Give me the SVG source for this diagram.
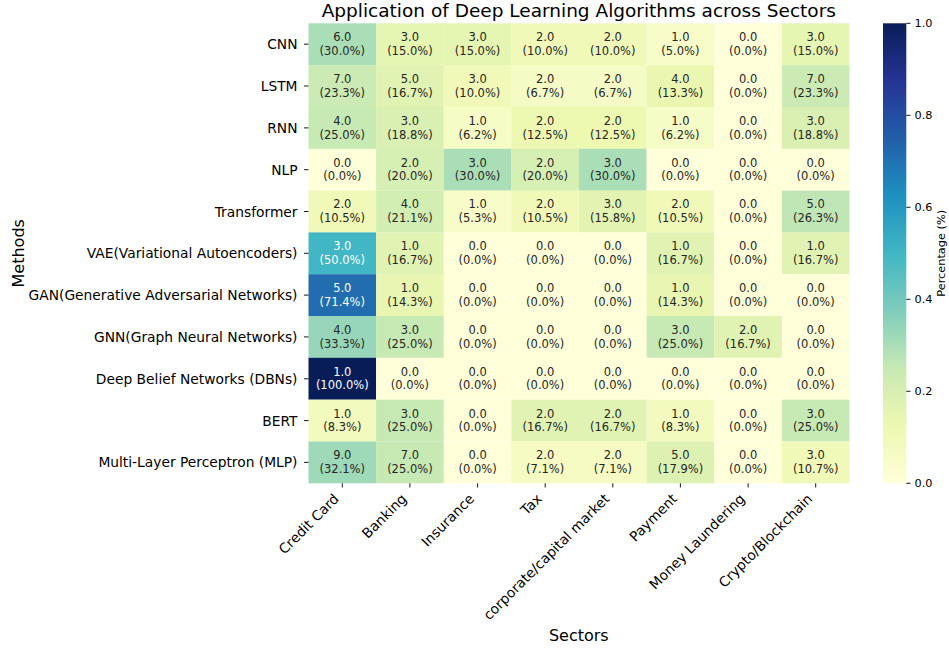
<svg xmlns="http://www.w3.org/2000/svg" width="949" height="651" viewBox="0 0 949 651">
<style>
text{font-family:"DejaVu Sans","Liberation Sans",sans-serif;fill:#262626}
.cell text{font-size:11.5px;text-anchor:middle}
.cell.w text{fill:#ffffff}
.yl{font-size:13.8px;text-anchor:end;fill:#000}
.xl{font-size:13.8px;text-anchor:end;fill:#000}
.cb{font-size:11.3px;fill:#000}
.tk{stroke:#000;stroke-width:0.9}
.ttl{font-size:18.5px;text-anchor:middle;fill:#000}
.al{font-size:16px;text-anchor:middle;fill:#000}
</style>
<defs>
<linearGradient id="ylgnbu" x1="0" y1="1" x2="0" y2="0">
<stop offset="0" stop-color="#ffffd9"/>
<stop offset="0.125" stop-color="#edf8b1"/>
<stop offset="0.25" stop-color="#c7e9b4"/>
<stop offset="0.375" stop-color="#7fcdbb"/>
<stop offset="0.5" stop-color="#41b6c4"/>
<stop offset="0.625" stop-color="#1d91c0"/>
<stop offset="0.75" stop-color="#225ea8"/>
<stop offset="0.875" stop-color="#253494"/>
<stop offset="1" stop-color="#081d58"/>
</linearGradient>
</defs>
<rect width="949" height="651" fill="#ffffff"/>
<text class="ttl" x="578.8" y="17">Application of Deep Learning Algorithms across Sectors</text>

<g id="heatmap">
<!-- CNN -->
<g id="cnn-creditcard" class="cell" transform="translate(308.5,23.3)"><rect width="67.7" height="41.9" fill="#aadeb7"/><text x="33.8" y="17.9">6.0</text><text x="33.8" y="31.5">(30.0%)</text></g>
<g id="cnn-banking" class="cell" transform="translate(376.1,23.3)"><rect width="67.7" height="41.9" fill="#e5f5b2"/><text x="33.8" y="17.9">3.0</text><text x="33.8" y="31.5">(15.0%)</text></g>
<g id="cnn-insurance" class="cell" transform="translate(443.8,23.3)"><rect width="67.7" height="41.9" fill="#e5f5b2"/><text x="33.8" y="17.9">3.0</text><text x="33.8" y="31.5">(15.0%)</text></g>
<g id="cnn-tax" class="cell" transform="translate(511.4,23.3)"><rect width="67.7" height="41.9" fill="#f1f9b9"/><text x="33.8" y="17.9">2.0</text><text x="33.8" y="31.5">(10.0%)</text></g>
<g id="cnn-corporate" class="cell" transform="translate(579,23.3)"><rect width="67.7" height="41.9" fill="#f1f9b9"/><text x="33.8" y="17.9">2.0</text><text x="33.8" y="31.5">(10.0%)</text></g>
<g id="cnn-payment" class="cell" transform="translate(646.6,23.3)"><rect width="67.7" height="41.9" fill="#f8fcc9"/><text x="33.8" y="17.9">1.0</text><text x="33.8" y="31.5">(5.0%)</text></g>
<g id="cnn-moneylaundering" class="cell" transform="translate(714.3,23.3)"><rect width="67.7" height="41.9" fill="#ffffd9"/><text x="33.8" y="17.9">0.0</text><text x="33.8" y="31.5">(0.0%)</text></g>
<g id="cnn-crypto" class="cell" transform="translate(781.9,23.3)"><rect width="67.6" height="41.9" fill="#e5f5b2"/><text x="33.8" y="17.9">3.0</text><text x="33.8" y="31.5">(15.0%)</text></g>
<!-- LSTM -->
<g id="lstm-creditcard" class="cell" transform="translate(308.5,65.1)"><rect width="67.7" height="41.9" fill="#ccebb4"/><text x="33.8" y="17.9">7.0</text><text x="33.8" y="31.5">(23.3%)</text></g>
<g id="lstm-banking" class="cell" transform="translate(376.1,65.1)"><rect width="67.7" height="41.9" fill="#e0f3b2"/><text x="33.8" y="17.9">5.0</text><text x="33.8" y="31.5">(16.7%)</text></g>
<g id="lstm-insurance" class="cell" transform="translate(443.8,65.1)"><rect width="67.7" height="41.9" fill="#f1f9b9"/><text x="33.8" y="17.9">3.0</text><text x="33.8" y="31.5">(10.0%)</text></g>
<g id="lstm-tax" class="cell" transform="translate(511.4,65.1)"><rect width="67.7" height="41.9" fill="#f5fbc4"/><text x="33.8" y="17.9">2.0</text><text x="33.8" y="31.5">(6.7%)</text></g>
<g id="lstm-corporate" class="cell" transform="translate(579,65.1)"><rect width="67.7" height="41.9" fill="#f5fbc4"/><text x="33.8" y="17.9">2.0</text><text x="33.8" y="31.5">(6.7%)</text></g>
<g id="lstm-payment" class="cell" transform="translate(646.6,65.1)"><rect width="67.7" height="41.9" fill="#ebf7b1"/><text x="33.8" y="17.9">4.0</text><text x="33.8" y="31.5">(13.3%)</text></g>
<g id="lstm-moneylaundering" class="cell" transform="translate(714.3,65.1)"><rect width="67.7" height="41.9" fill="#ffffd9"/><text x="33.8" y="17.9">0.0</text><text x="33.8" y="31.5">(0.0%)</text></g>
<g id="lstm-crypto" class="cell" transform="translate(781.9,65.1)"><rect width="67.6" height="41.9" fill="#ccebb4"/><text x="33.8" y="17.9">7.0</text><text x="33.8" y="31.5">(23.3%)</text></g>
<!-- RNN -->
<g id="rnn-creditcard" class="cell" transform="translate(308.5,107)"><rect width="67.7" height="41.9" fill="#c7e9b4"/><text x="33.8" y="17.9">4.0</text><text x="33.8" y="31.5">(25.0%)</text></g>
<g id="rnn-banking" class="cell" transform="translate(376.1,107)"><rect width="67.7" height="41.9" fill="#daf0b3"/><text x="33.8" y="17.9">3.0</text><text x="33.8" y="31.5">(18.8%)</text></g>
<g id="rnn-insurance" class="cell" transform="translate(443.8,107)"><rect width="67.7" height="41.9" fill="#f6fcc5"/><text x="33.8" y="17.9">1.0</text><text x="33.8" y="31.5">(6.2%)</text></g>
<g id="rnn-tax" class="cell" transform="translate(511.4,107)"><rect width="67.7" height="41.9" fill="#edf8b1"/><text x="33.8" y="17.9">2.0</text><text x="33.8" y="31.5">(12.5%)</text></g>
<g id="rnn-corporate" class="cell" transform="translate(579,107)"><rect width="67.7" height="41.9" fill="#edf8b1"/><text x="33.8" y="17.9">2.0</text><text x="33.8" y="31.5">(12.5%)</text></g>
<g id="rnn-payment" class="cell" transform="translate(646.6,107)"><rect width="67.7" height="41.9" fill="#f6fcc5"/><text x="33.8" y="17.9">1.0</text><text x="33.8" y="31.5">(6.2%)</text></g>
<g id="rnn-moneylaundering" class="cell" transform="translate(714.3,107)"><rect width="67.7" height="41.9" fill="#ffffd9"/><text x="33.8" y="17.9">0.0</text><text x="33.8" y="31.5">(0.0%)</text></g>
<g id="rnn-crypto" class="cell" transform="translate(781.9,107)"><rect width="67.6" height="41.9" fill="#daf0b3"/><text x="33.8" y="17.9">3.0</text><text x="33.8" y="31.5">(18.8%)</text></g>
<!-- NLP -->
<g id="nlp-creditcard" class="cell" transform="translate(308.5,148.8)"><rect width="67.7" height="41.9" fill="#ffffd9"/><text x="33.8" y="17.9">0.0</text><text x="33.8" y="31.5">(0.0%)</text></g>
<g id="nlp-banking" class="cell" transform="translate(376.1,148.8)"><rect width="67.7" height="41.9" fill="#d6efb3"/><text x="33.8" y="17.9">2.0</text><text x="33.8" y="31.5">(20.0%)</text></g>
<g id="nlp-insurance" class="cell" transform="translate(443.8,148.8)"><rect width="67.7" height="41.9" fill="#aadeb7"/><text x="33.8" y="17.9">3.0</text><text x="33.8" y="31.5">(30.0%)</text></g>
<g id="nlp-tax" class="cell" transform="translate(511.4,148.8)"><rect width="67.7" height="41.9" fill="#d6efb3"/><text x="33.8" y="17.9">2.0</text><text x="33.8" y="31.5">(20.0%)</text></g>
<g id="nlp-corporate" class="cell" transform="translate(579,148.8)"><rect width="67.7" height="41.9" fill="#aadeb7"/><text x="33.8" y="17.9">3.0</text><text x="33.8" y="31.5">(30.0%)</text></g>
<g id="nlp-payment" class="cell" transform="translate(646.6,148.8)"><rect width="67.7" height="41.9" fill="#ffffd9"/><text x="33.8" y="17.9">0.0</text><text x="33.8" y="31.5">(0.0%)</text></g>
<g id="nlp-moneylaundering" class="cell" transform="translate(714.3,148.8)"><rect width="67.7" height="41.9" fill="#ffffd9"/><text x="33.8" y="17.9">0.0</text><text x="33.8" y="31.5">(0.0%)</text></g>
<g id="nlp-crypto" class="cell" transform="translate(781.9,148.8)"><rect width="67.6" height="41.9" fill="#ffffd9"/><text x="33.8" y="17.9">0.0</text><text x="33.8" y="31.5">(0.0%)</text></g>
<!-- Transformer -->
<g id="transformer-creditcard" class="cell" transform="translate(308.5,190.6)"><rect width="67.7" height="41.9" fill="#f0f9b7"/><text x="33.8" y="17.9">2.0</text><text x="33.8" y="31.5">(10.5%)</text></g>
<g id="transformer-banking" class="cell" transform="translate(376.1,190.6)"><rect width="67.7" height="41.9" fill="#d3eeb3"/><text x="33.8" y="17.9">4.0</text><text x="33.8" y="31.5">(21.1%)</text></g>
<g id="transformer-insurance" class="cell" transform="translate(443.8,190.6)"><rect width="67.7" height="41.9" fill="#f7fcc8"/><text x="33.8" y="17.9">1.0</text><text x="33.8" y="31.5">(5.3%)</text></g>
<g id="transformer-tax" class="cell" transform="translate(511.4,190.6)"><rect width="67.7" height="41.9" fill="#f0f9b7"/><text x="33.8" y="17.9">2.0</text><text x="33.8" y="31.5">(10.5%)</text></g>
<g id="transformer-corporate" class="cell" transform="translate(579,190.6)"><rect width="67.7" height="41.9" fill="#e3f4b2"/><text x="33.8" y="17.9">3.0</text><text x="33.8" y="31.5">(15.8%)</text></g>
<g id="transformer-payment" class="cell" transform="translate(646.6,190.6)"><rect width="67.7" height="41.9" fill="#f0f9b7"/><text x="33.8" y="17.9">2.0</text><text x="33.8" y="31.5">(10.5%)</text></g>
<g id="transformer-moneylaundering" class="cell" transform="translate(714.3,190.6)"><rect width="67.7" height="41.9" fill="#ffffd9"/><text x="33.8" y="17.9">0.0</text><text x="33.8" y="31.5">(0.0%)</text></g>
<g id="transformer-crypto" class="cell" transform="translate(781.9,190.6)"><rect width="67.6" height="41.9" fill="#c0e6b5"/><text x="33.8" y="17.9">5.0</text><text x="33.8" y="31.5">(26.3%)</text></g>
<!-- VAE -->
<g id="vae-creditcard" class="cell w" transform="translate(308.5,232.4)"><rect width="67.7" height="41.9" fill="#41b6c4"/><text x="33.8" y="17.9">3.0</text><text x="33.8" y="31.5">(50.0%)</text></g>
<g id="vae-banking" class="cell" transform="translate(376.1,232.4)"><rect width="67.7" height="41.9" fill="#e0f3b2"/><text x="33.8" y="17.9">1.0</text><text x="33.8" y="31.5">(16.7%)</text></g>
<g id="vae-insurance" class="cell" transform="translate(443.8,232.4)"><rect width="67.7" height="41.9" fill="#ffffd9"/><text x="33.8" y="17.9">0.0</text><text x="33.8" y="31.5">(0.0%)</text></g>
<g id="vae-tax" class="cell" transform="translate(511.4,232.4)"><rect width="67.7" height="41.9" fill="#ffffd9"/><text x="33.8" y="17.9">0.0</text><text x="33.8" y="31.5">(0.0%)</text></g>
<g id="vae-corporate" class="cell" transform="translate(579,232.4)"><rect width="67.7" height="41.9" fill="#ffffd9"/><text x="33.8" y="17.9">0.0</text><text x="33.8" y="31.5">(0.0%)</text></g>
<g id="vae-payment" class="cell" transform="translate(646.6,232.4)"><rect width="67.7" height="41.9" fill="#e0f3b2"/><text x="33.8" y="17.9">1.0</text><text x="33.8" y="31.5">(16.7%)</text></g>
<g id="vae-moneylaundering" class="cell" transform="translate(714.3,232.4)"><rect width="67.7" height="41.9" fill="#ffffd9"/><text x="33.8" y="17.9">0.0</text><text x="33.8" y="31.5">(0.0%)</text></g>
<g id="vae-crypto" class="cell" transform="translate(781.9,232.4)"><rect width="67.6" height="41.9" fill="#e0f3b2"/><text x="33.8" y="17.9">1.0</text><text x="33.8" y="31.5">(16.7%)</text></g>
<!-- GAN -->
<g id="gan-creditcard" class="cell w" transform="translate(308.5,274.2)"><rect width="67.7" height="41.9" fill="#216daf"/><text x="33.8" y="17.9">5.0</text><text x="33.8" y="31.5">(71.4%)</text></g>
<g id="gan-banking" class="cell" transform="translate(376.1,274.2)"><rect width="67.7" height="41.9" fill="#e8f6b1"/><text x="33.8" y="17.9">1.0</text><text x="33.8" y="31.5">(14.3%)</text></g>
<g id="gan-insurance" class="cell" transform="translate(443.8,274.2)"><rect width="67.7" height="41.9" fill="#ffffd9"/><text x="33.8" y="17.9">0.0</text><text x="33.8" y="31.5">(0.0%)</text></g>
<g id="gan-tax" class="cell" transform="translate(511.4,274.2)"><rect width="67.7" height="41.9" fill="#ffffd9"/><text x="33.8" y="17.9">0.0</text><text x="33.8" y="31.5">(0.0%)</text></g>
<g id="gan-corporate" class="cell" transform="translate(579,274.2)"><rect width="67.7" height="41.9" fill="#ffffd9"/><text x="33.8" y="17.9">0.0</text><text x="33.8" y="31.5">(0.0%)</text></g>
<g id="gan-payment" class="cell" transform="translate(646.6,274.2)"><rect width="67.7" height="41.9" fill="#e8f6b1"/><text x="33.8" y="17.9">1.0</text><text x="33.8" y="31.5">(14.3%)</text></g>
<g id="gan-moneylaundering" class="cell" transform="translate(714.3,274.2)"><rect width="67.7" height="41.9" fill="#ffffd9"/><text x="33.8" y="17.9">0.0</text><text x="33.8" y="31.5">(0.0%)</text></g>
<g id="gan-crypto" class="cell" transform="translate(781.9,274.2)"><rect width="67.6" height="41.9" fill="#ffffd9"/><text x="33.8" y="17.9">0.0</text><text x="33.8" y="31.5">(0.0%)</text></g>
<!-- GNN -->
<g id="gnn-creditcard" class="cell" transform="translate(308.5,316)"><rect width="67.7" height="41.9" fill="#97d6b9"/><text x="33.8" y="17.9">4.0</text><text x="33.8" y="31.5">(33.3%)</text></g>
<g id="gnn-banking" class="cell" transform="translate(376.1,316)"><rect width="67.7" height="41.9" fill="#c7e9b4"/><text x="33.8" y="17.9">3.0</text><text x="33.8" y="31.5">(25.0%)</text></g>
<g id="gnn-insurance" class="cell" transform="translate(443.8,316)"><rect width="67.7" height="41.9" fill="#ffffd9"/><text x="33.8" y="17.9">0.0</text><text x="33.8" y="31.5">(0.0%)</text></g>
<g id="gnn-tax" class="cell" transform="translate(511.4,316)"><rect width="67.7" height="41.9" fill="#ffffd9"/><text x="33.8" y="17.9">0.0</text><text x="33.8" y="31.5">(0.0%)</text></g>
<g id="gnn-corporate" class="cell" transform="translate(579,316)"><rect width="67.7" height="41.9" fill="#ffffd9"/><text x="33.8" y="17.9">0.0</text><text x="33.8" y="31.5">(0.0%)</text></g>
<g id="gnn-payment" class="cell" transform="translate(646.6,316)"><rect width="67.7" height="41.9" fill="#c7e9b4"/><text x="33.8" y="17.9">3.0</text><text x="33.8" y="31.5">(25.0%)</text></g>
<g id="gnn-moneylaundering" class="cell" transform="translate(714.3,316)"><rect width="67.7" height="41.9" fill="#e0f3b2"/><text x="33.8" y="17.9">2.0</text><text x="33.8" y="31.5">(16.7%)</text></g>
<g id="gnn-crypto" class="cell" transform="translate(781.9,316)"><rect width="67.6" height="41.9" fill="#ffffd9"/><text x="33.8" y="17.9">0.0</text><text x="33.8" y="31.5">(0.0%)</text></g>
<!-- DBN -->
<g id="dbn-creditcard" class="cell w" transform="translate(308.5,357.8)"><rect width="67.7" height="41.9" fill="#081d58"/><text x="33.8" y="17.9">1.0</text><text x="33.8" y="31.5">(100.0%)</text></g>
<g id="dbn-banking" class="cell" transform="translate(376.1,357.8)"><rect width="67.7" height="41.9" fill="#ffffd9"/><text x="33.8" y="17.9">0.0</text><text x="33.8" y="31.5">(0.0%)</text></g>
<g id="dbn-insurance" class="cell" transform="translate(443.8,357.8)"><rect width="67.7" height="41.9" fill="#ffffd9"/><text x="33.8" y="17.9">0.0</text><text x="33.8" y="31.5">(0.0%)</text></g>
<g id="dbn-tax" class="cell" transform="translate(511.4,357.8)"><rect width="67.7" height="41.9" fill="#ffffd9"/><text x="33.8" y="17.9">0.0</text><text x="33.8" y="31.5">(0.0%)</text></g>
<g id="dbn-corporate" class="cell" transform="translate(579,357.8)"><rect width="67.7" height="41.9" fill="#ffffd9"/><text x="33.8" y="17.9">0.0</text><text x="33.8" y="31.5">(0.0%)</text></g>
<g id="dbn-payment" class="cell" transform="translate(646.6,357.8)"><rect width="67.7" height="41.9" fill="#ffffd9"/><text x="33.8" y="17.9">0.0</text><text x="33.8" y="31.5">(0.0%)</text></g>
<g id="dbn-moneylaundering" class="cell" transform="translate(714.3,357.8)"><rect width="67.7" height="41.9" fill="#ffffd9"/><text x="33.8" y="17.9">0.0</text><text x="33.8" y="31.5">(0.0%)</text></g>
<g id="dbn-crypto" class="cell" transform="translate(781.9,357.8)"><rect width="67.6" height="41.9" fill="#ffffd9"/><text x="33.8" y="17.9">0.0</text><text x="33.8" y="31.5">(0.0%)</text></g>
<!-- BERT -->
<g id="bert-creditcard" class="cell" transform="translate(308.5,399.7)"><rect width="67.7" height="41.9" fill="#f3fabe"/><text x="33.8" y="17.9">1.0</text><text x="33.8" y="31.5">(8.3%)</text></g>
<g id="bert-banking" class="cell" transform="translate(376.1,399.7)"><rect width="67.7" height="41.9" fill="#c7e9b4"/><text x="33.8" y="17.9">3.0</text><text x="33.8" y="31.5">(25.0%)</text></g>
<g id="bert-insurance" class="cell" transform="translate(443.8,399.7)"><rect width="67.7" height="41.9" fill="#ffffd9"/><text x="33.8" y="17.9">0.0</text><text x="33.8" y="31.5">(0.0%)</text></g>
<g id="bert-tax" class="cell" transform="translate(511.4,399.7)"><rect width="67.7" height="41.9" fill="#e0f3b2"/><text x="33.8" y="17.9">2.0</text><text x="33.8" y="31.5">(16.7%)</text></g>
<g id="bert-corporate" class="cell" transform="translate(579,399.7)"><rect width="67.7" height="41.9" fill="#e0f3b2"/><text x="33.8" y="17.9">2.0</text><text x="33.8" y="31.5">(16.7%)</text></g>
<g id="bert-payment" class="cell" transform="translate(646.6,399.7)"><rect width="67.7" height="41.9" fill="#f3fabe"/><text x="33.8" y="17.9">1.0</text><text x="33.8" y="31.5">(8.3%)</text></g>
<g id="bert-moneylaundering" class="cell" transform="translate(714.3,399.7)"><rect width="67.7" height="41.9" fill="#ffffd9"/><text x="33.8" y="17.9">0.0</text><text x="33.8" y="31.5">(0.0%)</text></g>
<g id="bert-crypto" class="cell" transform="translate(781.9,399.7)"><rect width="67.6" height="41.9" fill="#c7e9b4"/><text x="33.8" y="17.9">3.0</text><text x="33.8" y="31.5">(25.0%)</text></g>
<!-- MLP -->
<g id="mlp-creditcard" class="cell" transform="translate(308.5,441.5)"><rect width="67.7" height="41.8" fill="#9ed9b8"/><text x="33.8" y="17.9">9.0</text><text x="33.8" y="31.5">(32.1%)</text></g>
<g id="mlp-banking" class="cell" transform="translate(376.1,441.5)"><rect width="67.7" height="41.8" fill="#c7e9b4"/><text x="33.8" y="17.9">7.0</text><text x="33.8" y="31.5">(25.0%)</text></g>
<g id="mlp-insurance" class="cell" transform="translate(443.8,441.5)"><rect width="67.7" height="41.8" fill="#ffffd9"/><text x="33.8" y="17.9">0.0</text><text x="33.8" y="31.5">(0.0%)</text></g>
<g id="mlp-tax" class="cell" transform="translate(511.4,441.5)"><rect width="67.7" height="41.8" fill="#f5fbc2"/><text x="33.8" y="17.9">2.0</text><text x="33.8" y="31.5">(7.1%)</text></g>
<g id="mlp-corporate" class="cell" transform="translate(579,441.5)"><rect width="67.7" height="41.8" fill="#f5fbc2"/><text x="33.8" y="17.9">2.0</text><text x="33.8" y="31.5">(7.1%)</text></g>
<g id="mlp-payment" class="cell" transform="translate(646.6,441.5)"><rect width="67.7" height="41.8" fill="#ddf2b2"/><text x="33.8" y="17.9">5.0</text><text x="33.8" y="31.5">(17.9%)</text></g>
<g id="mlp-moneylaundering" class="cell" transform="translate(714.3,441.5)"><rect width="67.7" height="41.8" fill="#ffffd9"/><text x="33.8" y="17.9">0.0</text><text x="33.8" y="31.5">(0.0%)</text></g>
<g id="mlp-crypto" class="cell" transform="translate(781.9,441.5)"><rect width="67.6" height="41.8" fill="#f0f9b7"/><text x="33.8" y="17.9">3.0</text><text x="33.8" y="31.5">(10.7%)</text></g>
</g>

<g id="y-axis">
<g class="tk">
<line x1="304" y1="44.2" x2="308.5" y2="44.2"/><line x1="304" y1="86" x2="308.5" y2="86"/><line x1="304" y1="127.9" x2="308.5" y2="127.9"/><line x1="304" y1="169.7" x2="308.5" y2="169.7"/><line x1="304" y1="211.5" x2="308.5" y2="211.5"/><line x1="304" y1="253.3" x2="308.5" y2="253.3"/><line x1="304" y1="295.1" x2="308.5" y2="295.1"/><line x1="304" y1="336.9" x2="308.5" y2="336.9"/><line x1="304" y1="378.8" x2="308.5" y2="378.8"/><line x1="304" y1="420.6" x2="308.5" y2="420.6"/><line x1="304" y1="462.4" x2="308.5" y2="462.4"/>
</g>
<text class="yl" x="297.5" y="49.2">CNN</text>
<text class="yl" x="297.5" y="91">LSTM</text>
<text class="yl" x="297.5" y="132.9">RNN</text>
<text class="yl" x="297.5" y="174.7">NLP</text>
<text class="yl" x="297.5" y="216.5">Transformer</text>
<text class="yl" x="297.5" y="258.3">VAE(Variational Autoencoders)</text>
<text class="yl" x="297.5" y="300.1">GAN(Generative Adversarial Networks)</text>
<text class="yl" x="297.5" y="341.9">GNN(Graph Neural Networks)</text>
<text class="yl" x="297.5" y="383.8">Deep Belief Networks (DBNs)</text>
<text class="yl" x="297.5" y="425.6">BERT</text>
<text class="yl" x="297.5" y="467.4">Multi-Layer Perceptron (MLP)</text>
<text class="al" transform="translate(23.5,253.3) rotate(-90)">Methods</text>
</g>

<g id="x-axis">
<g class="tk">
<line x1="342.3" y1="483.3" x2="342.3" y2="487.5"/><line x1="409.9" y1="483.3" x2="409.9" y2="487.5"/><line x1="477.6" y1="483.3" x2="477.6" y2="487.5"/><line x1="545.2" y1="483.3" x2="545.2" y2="487.5"/><line x1="612.8" y1="483.3" x2="612.8" y2="487.5"/><line x1="680.4" y1="483.3" x2="680.4" y2="487.5"/><line x1="748.1" y1="483.3" x2="748.1" y2="487.5"/><line x1="815.7" y1="483.3" x2="815.7" y2="487.5"/>
</g>
<text class="xl" transform="translate(339.8,499.7) rotate(-45)">Credit Card</text>
<text class="xl" transform="translate(407.4,499.7) rotate(-45)">Banking</text>
<text class="xl" transform="translate(475.1,499.7) rotate(-45)">Insurance</text>
<text class="xl" transform="translate(542.7,499.7) rotate(-45)">Tax</text>
<text class="xl" transform="translate(610.3,499.7) rotate(-45)">corporate/capital market</text>
<text class="xl" transform="translate(677.9,499.7) rotate(-45)">Payment</text>
<text class="xl" transform="translate(745.6,499.7) rotate(-45)">Money Laundering</text>
<text class="xl" transform="translate(813.2,499.7) rotate(-45)">Crypto/Blockchain</text>
<text class="al" x="578.8" y="641">Sectors</text>
</g>

<g id="colorbar">
<rect x="883" y="23.3" width="23.3" height="460" fill="url(#ylgnbu)"/>
<g class="tk">
<line x1="906.3" y1="483.3" x2="910.5" y2="483.3"/><line x1="906.3" y1="391.3" x2="910.5" y2="391.3"/><line x1="906.3" y1="299.3" x2="910.5" y2="299.3"/><line x1="906.3" y1="207.3" x2="910.5" y2="207.3"/><line x1="906.3" y1="115.3" x2="910.5" y2="115.3"/><line x1="906.3" y1="23.3" x2="910.5" y2="23.3"/>
</g>
<text class="cb" x="914.5" y="487.4">0.0</text>
<text class="cb" x="914.5" y="395.4">0.2</text>
<text class="cb" x="914.5" y="303.4">0.4</text>
<text class="cb" x="914.5" y="211.4">0.6</text>
<text class="cb" x="914.5" y="119.4">0.8</text>
<text class="cb" x="914.5" y="27.4">1.0</text>
<text class="cb" text-anchor="middle" transform="translate(945,253.3) rotate(-90)">Percentage (%)</text>
</g>
</svg>
